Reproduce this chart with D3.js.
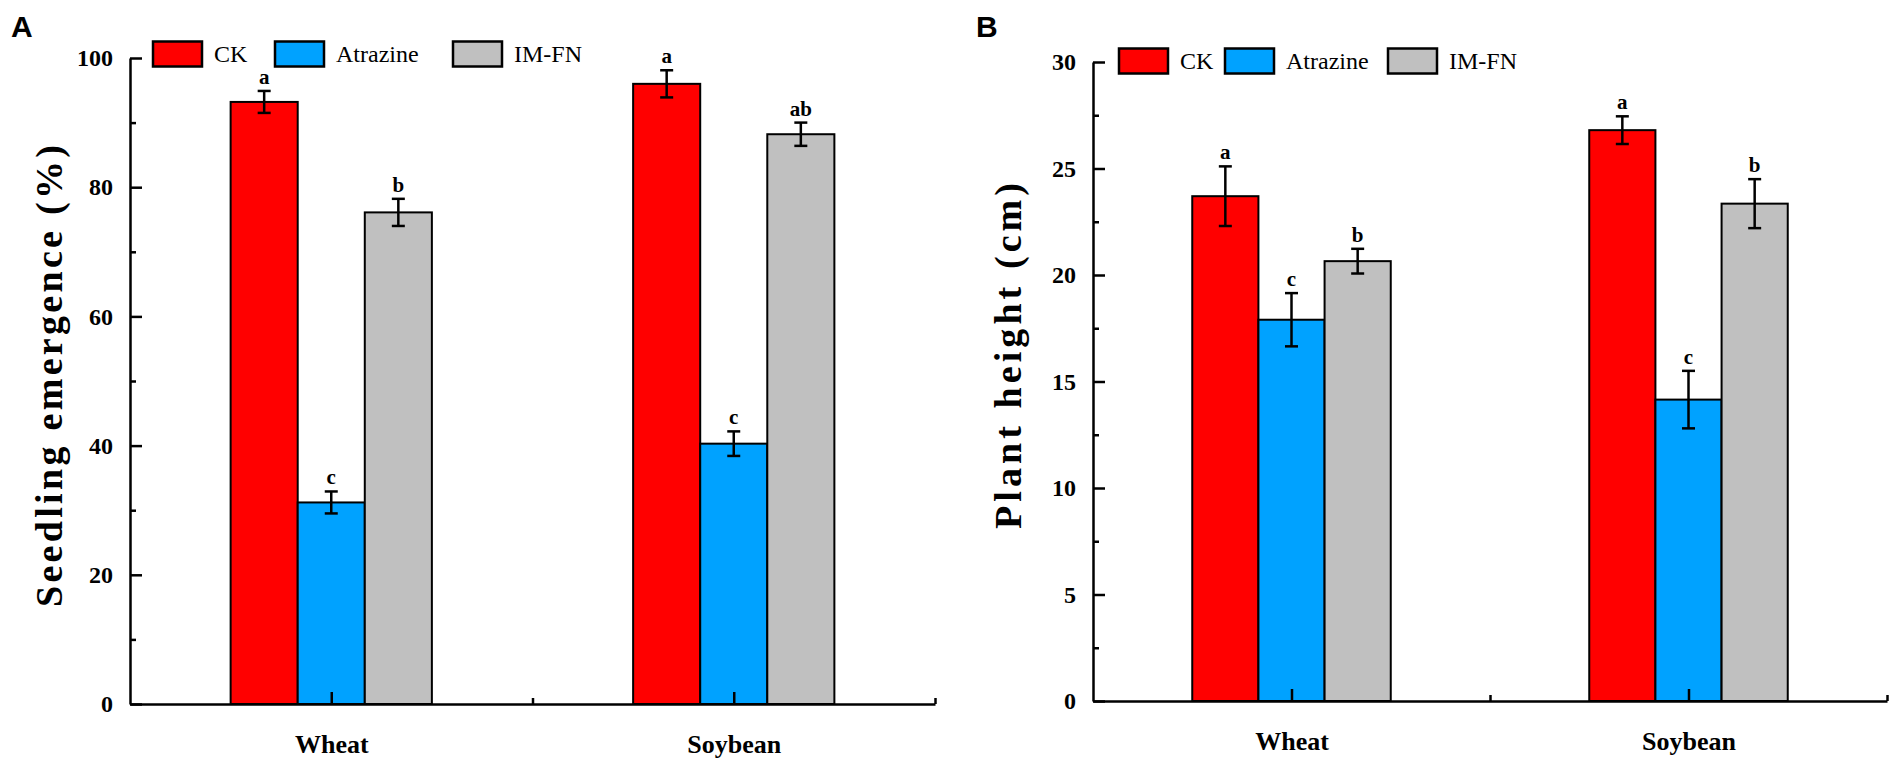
<!DOCTYPE html>
<html>
<head>
<meta charset="utf-8">
<script src="https://cdn.jsdelivr.net/npm/d3@7"></script>
<style>
  body { margin: 0; background: #fff; }
  svg { display: block; }
</style>
</head>
<body>
<div id="chart"></div>
<script>
// categories and treatments
const categories = ["Wheat", "Soybean"];
const treatments = ["CK", "Atrazine", "IM-FN"];
const colors = ["#ff0000", "#00a2ff", "#c0c0c0"];

// A - seedling emergence (%)
const emergenceCK = [93.2, 96.0];
const emergenceAtrazine = [31.2, 40.3];
const emergenceIMFN = [76.1, 88.2];
const emergenceErrCK = [1.7, 2.1];
const emergenceErrAtrazine = [1.7, 1.9];
const emergenceErrIMFN = [2.1, 1.8];
const emergenceLetters = [["a", "a"], ["c", "c"], ["b", "ab"]];
const emergenceTicks = [0, 20, 40, 60, 80, 100];
const emergenceMinor = [10, 30, 50, 70, 90];

// B - plant height (cm)
const heightCK = [23.7, 26.8];
const heightAtrazine = [17.9, 14.15];
const heightIMFN = [20.65, 23.35];
const heightErrCK = [1.4, 0.65];
const heightErrAtrazine = [1.25, 1.35];
const heightErrIMFN = [0.58, 1.15];
const heightLetters = [["a", "a"], ["c", "c"], ["b", "b"]];
const heightTicks = [0, 5, 10, 15, 20, 25, 30];
const heightMinor = [2.5, 7.5, 12.5, 17.5, 22.5, 27.5];

const width = 1904;
const height = 767;
const serif = "'Liberation Serif', 'Times New Roman', serif";

const svg = d3.select("#chart")
    .append("svg")
    .attr("width", width)
    .attr("height", height);

function drawPanel(opt) {
    const x = d3.scaleLinear().domain([0.5, 2.5]).range([opt.left, opt.right]);
    const y = d3.scaleLinear().domain([0, opt.ymax]).range([opt.bottom, opt.top]);
    const barW = x(1 + 1 / 6) - x(1);

    const g = svg.append("g");

    // bars
    opt.means.forEach((vals, j) => {
        vals.forEach((v, i) => {
            const cx = x(i + 1) + (j - 1) * barW;
            g.append("rect")
                .attr("x", cx - barW / 2)
                .attr("y", y(v))
                .attr("width", barW)
                .attr("height", y(0) - y(v))
                .attr("fill", colors[j])
                .attr("stroke", "#000")
                .attr("stroke-width", 2);

            // error bar
            const e = opt.errs[j][i];
            const eb = g.append("g").attr("stroke", "#000").attr("stroke-width", 2.5);
            eb.append("line").attr("x1", cx).attr("x2", cx).attr("y1", y(v - e)).attr("y2", y(v + e));
            eb.append("line").attr("x1", cx - 6.5).attr("x2", cx + 6.5).attr("y1", y(v + e)).attr("y2", y(v + e));
            eb.append("line").attr("x1", cx - 6.5).attr("x2", cx + 6.5).attr("y1", y(v - e)).attr("y2", y(v - e));

            g.append("text")
                .attr("x", cx)
                .attr("y", y(v + e) - 7)
                .attr("text-anchor", "middle")
                .attr("font-family", serif)
                .attr("font-weight", "bold")
                .attr("font-size", 21)
                .text(opt.letters[j][i]);
        });
    });

    // y axis
    g.append("g")
        .attr("transform", `translate(${opt.left},0)`)
        .call(d3.axisLeft(y).tickValues(opt.ticks).tickSize(-12).tickSizeOuter(0).tickPadding(17));
    g.append("g")
        .attr("transform", `translate(${opt.left},0)`)
        .call(d3.axisLeft(y).tickValues(opt.minor).tickSize(-6).tickSizeOuter(0).tickFormat(""))
        .select(".domain").remove();

    // x axis
    const xAxis = g.append("g")
        .attr("transform", `translate(0,${opt.bottom})`)
        .call(d3.axisBottom(x).tickValues([1, 2]).tickSize(-12).tickSizeOuter(0).tickPadding(31)
            .tickFormat((d, i) => categories[i]));
    g.append("g")
        .attr("transform", `translate(0,${opt.bottom})`)
        .call(d3.axisBottom(x).tickValues([1.5, 2.5]).tickSize(-6).tickSizeOuter(0).tickFormat(""))
        .select(".domain").remove();

    g.selectAll(".domain, .tick line")
        .attr("stroke", "#000")
        .attr("stroke-width", 2.5);
    g.selectAll(".tick text")
        .attr("fill", "#000")
        .attr("font-family", serif)
        .attr("font-weight", "bold")
        .attr("font-size", 24);
    xAxis.selectAll(".tick text").attr("font-size", 26);

    // axis title
    g.append("text")
        .attr("transform", `translate(${opt.titleX},${opt.titleY}) rotate(-90)`)
        .attr("text-anchor", "middle")
        .attr("dy", "0.35em")
        .attr("font-family", serif)
        .attr("font-weight", "bold")
        .attr("font-size", 38)
        .attr("textLength", opt.titleLen)
        .attr("lengthAdjust", "spacing")
        .text(opt.title);

    // panel letter
    g.append("text")
        .attr("x", opt.labelX)
        .attr("y", 37)
        .attr("font-family", "'Liberation Sans', Arial, sans-serif")
        .attr("font-weight", "bold")
        .attr("font-size", 30)
        .text(opt.label);

    // legend
    const leg = g.append("g");
    treatments.forEach((t, j) => {
        const lx = opt.legendX[j];
        leg.append("rect")
            .attr("x", lx)
            .attr("y", opt.legendY - 12.5)
            .attr("width", 49)
            .attr("height", 25)
            .attr("fill", colors[j])
            .attr("stroke", "#000")
            .attr("stroke-width", 2.5);
        leg.append("text")
            .attr("x", lx + 61)
            .attr("y", opt.legendY)
            .attr("dy", "0.35em")
            .attr("font-family", serif)
            .attr("font-size", 24)
            .text(t);
    });
}

drawPanel({
    left: 130, right: 935, top: 58, bottom: 704,
    ymax: 100,
    ticks: emergenceTicks, minor: emergenceMinor,
    means: [emergenceCK, emergenceAtrazine, emergenceIMFN],
    errs: [emergenceErrCK, emergenceErrAtrazine, emergenceErrIMFN],
    letters: emergenceLetters,
    title: "Seedling emergence (%)", titleX: 49, titleY: 376, titleLen: 462,
    label: "A", labelX: 11,
    legendX: [153, 275, 453], legendY: 54
});

drawPanel({
    left: 1093, right: 1887, top: 62, bottom: 701,
    ymax: 30,
    ticks: heightTicks, minor: heightMinor,
    means: [heightCK, heightAtrazine, heightIMFN],
    errs: [heightErrCK, heightErrAtrazine, heightErrIMFN],
    letters: heightLetters,
    title: "Plant height (cm)", titleX: 1008, titleY: 356, titleLen: 346,
    label: "B", labelX: 976,
    legendX: [1119, 1225, 1388], legendY: 61
});
</script>
</body>
</html>
